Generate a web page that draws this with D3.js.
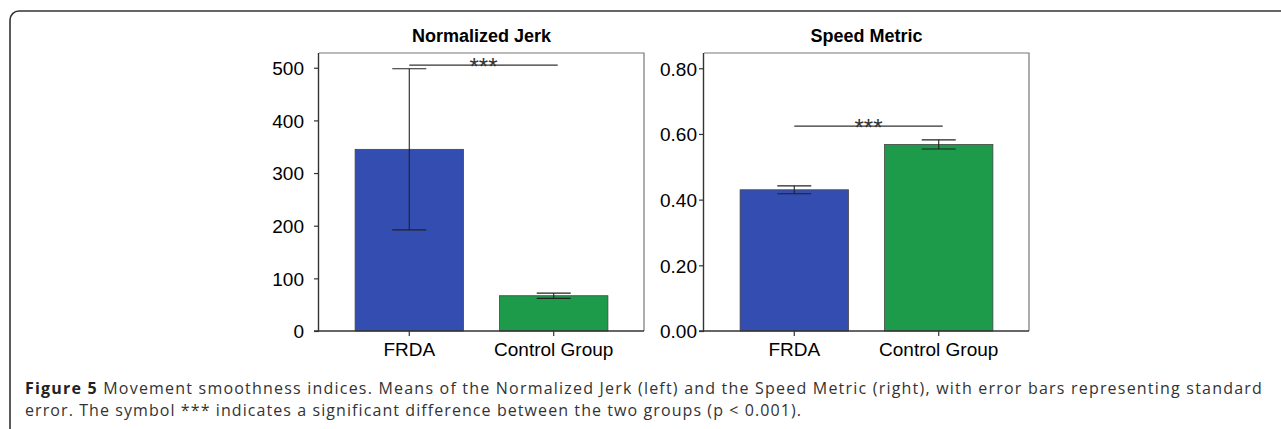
<!DOCTYPE html>
<html>
<head>
<meta charset="utf-8">
<script src="https://cdn.jsdelivr.net/npm/d3@7"></script>
<style>
  body { margin: 0; background: #fff; }
  svg { display: block; }
</style>
</head>
<body>
<svg id="fig" width="1281" height="429"></svg>
<script>
// data
const groups = ['FRDA', 'Control Group'];
const jerkMeans = [345, 67];
const jerkErrors = [153, 5];
const jerkTicks = [0, 100, 200, 300, 400, 500];
const jerkSignificance = 505;

const speedMeans = [0.43, 0.568];
const speedErrors = [0.012, 0.014];
const speedTicks = [0, 0.2, 0.4, 0.6, 0.8];
const speedSignificance = 0.624;

const barColors = ['#344db0', '#1e9a4b'];

const captionLines = [
  { bold: 'Figure 5', text: ' Movement smoothness indices. Means of the Normalized Jerk (left) and the Speed Metric (right), with error bars representing standard', width: 1238 },
  { bold: '', text: 'error. The symbol *** indicates a significant difference between the two groups (p < 0.001).', width: 777 }
];

const svg = d3.select('#fig');
const font = 'Liberation Sans, Arial, sans-serif';

// outer rounded frame, cut off on the right and bottom
svg.append('rect')
  .attr('x', 10).attr('y', 11)
  .attr('width', 1300).attr('height', 440)
  .attr('rx', 9)
  .attr('fill', 'none')
  .attr('stroke', '#333')
  .attr('stroke-width', 1.6);

function drawPanel(opts) {
  const x = d3.scaleBand().domain(groups).range([opts.left, opts.right]).paddingInner(0.25).paddingOuter(0.25);
  const y = d3.scaleLinear().domain([0, opts.yMax]).range([opts.bottom, opts.top]);
  const rows = groups.map((g, i) => ({ group: g, mean: opts.means[i], err: opts.errors[i], color: barColors[i] }));

  const g = svg.append('g');

  // box (top and right sides)
  g.append('path')
    .attr('d', `M${opts.left},${opts.top}H${opts.right}V${opts.bottom}`)
    .attr('fill', 'none')
    .attr('stroke', '#777')
    .attr('stroke-width', 1.2);

  g.selectAll('rect.bar')
    .data(rows)
    .enter()
    .append('rect')
    .attr('class', 'bar')
    .attr('x', d => x(d.group))
    .attr('y', d => y(d.mean))
    .attr('width', x.bandwidth())
    .attr('height', d => y(0) - y(d.mean))
    .attr('fill', d => d.color)
    .attr('stroke', '#444')
    .attr('stroke-width', 0.8);

  // error bars
  const eb = g.selectAll('g.err').data(rows).enter().append('g').attr('class', 'err')
    .attr('stroke', '#222').attr('stroke-width', 1.1);
  const cx = d => x(d.group) + x.bandwidth() / 2;
  eb.append('line')
    .attr('x1', cx).attr('x2', cx)
    .attr('y1', d => y(d.mean + d.err)).attr('y2', d => y(d.mean - d.err));
  eb.append('line')
    .attr('x1', d => cx(d) - 17).attr('x2', d => cx(d) + 17)
    .attr('y1', d => y(d.mean + d.err)).attr('y2', d => y(d.mean + d.err));
  eb.append('line')
    .attr('x1', d => cx(d) - 17).attr('x2', d => cx(d) + 17)
    .attr('y1', d => y(d.mean - d.err)).attr('y2', d => y(d.mean - d.err));

  // significance line
  const sy = y(opts.significance);
  const sx1 = cx(rows[0]), sx2 = cx(rows[1]) + 4;
  g.append('line')
    .attr('x1', sx1).attr('x2', sx2)
    .attr('y1', sy).attr('y2', sy)
    .attr('stroke', '#333').attr('stroke-width', 1.3);
  g.append('text')
    .attr('x', (sx1 + sx2) / 2)
    .attr('y', sy + 9.5)
    .attr('text-anchor', 'middle')
    .attr('font-family', font)
    .attr('font-size', 24)
    .attr('fill', '#333')
    .text('***');

  // axes
  const yAxis = d3.axisLeft(y).tickValues(opts.ticks).tickSize(5).tickPadding(opts.tickPad).tickFormat(opts.format);
  const ya = g.append('g').attr('transform', `translate(${opts.left},0)`).call(yAxis);
  ya.select('.domain').attr('d', `M${-0.5},${opts.top}V${opts.bottom}`).attr('stroke', '#333').attr('stroke-width', 1.4);

  const xAxis = d3.axisBottom(x).tickSize(5).tickPadding(7);
  const xa = g.append('g').attr('transform', `translate(0,${opts.bottom})`).call(xAxis);
  xa.select('.domain').attr('d', `M${opts.left - 5},0H${opts.right}`).attr('stroke', '#333').attr('stroke-width', 1.4);

  [ya, xa].forEach(a => {
    a.attr('font-family', font).attr('font-size', 19);
    a.selectAll('.tick line').attr('stroke', '#333').attr('stroke-width', 1.2);
    a.selectAll('.tick text').attr('fill', '#000');
  });
  ya.selectAll('.tick text').attr('dy', '0.36em');

  g.append('text')
    .attr('x', (opts.left + opts.right) / 2)
    .attr('y', 41.5)
    .attr('text-anchor', 'middle')
    .attr('font-family', font)
    .attr('font-size', 18)
    .attr('font-weight', 'bold')
    .attr('fill', '#000')
    .text(opts.title);
}

drawPanel({
  title: 'Normalized Jerk',
  left: 319, right: 644, top: 53, bottom: 331, yMax: 528,
  means: jerkMeans, errors: jerkErrors, ticks: jerkTicks,
  significance: jerkSignificance, tickPad: 10, format: d3.format('d')
});

drawPanel({
  title: 'Speed Metric',
  left: 704, right: 1029, top: 53, bottom: 331, yMax: 0.8465,
  means: speedMeans, errors: speedErrors, ticks: speedTicks,
  significance: speedSignificance, tickPad: 2, format: d3.format('.2f')
});

// caption, spread to the reference line widths
const cap = svg.append('g')
  .attr('font-family', 'Open Sans, sans-serif')
  .attr('font-size', 16)
  .attr('fill', '#333');
captionLines.forEach((line, i) => {
  const t = cap.append('text').attr('x', 25).attr('y', 394 + i * 22);
  if (line.bold) t.append('tspan').attr('font-weight', 'bold').attr('fill', '#222').text(line.bold);
  t.append('tspan').text(line.text);
  const natural = t.node().getComputedTextLength();
  const chars = (line.bold + line.text).length;
  t.attr('letter-spacing', (line.width - natural) / chars);
});
</script>
</body>
</html>
